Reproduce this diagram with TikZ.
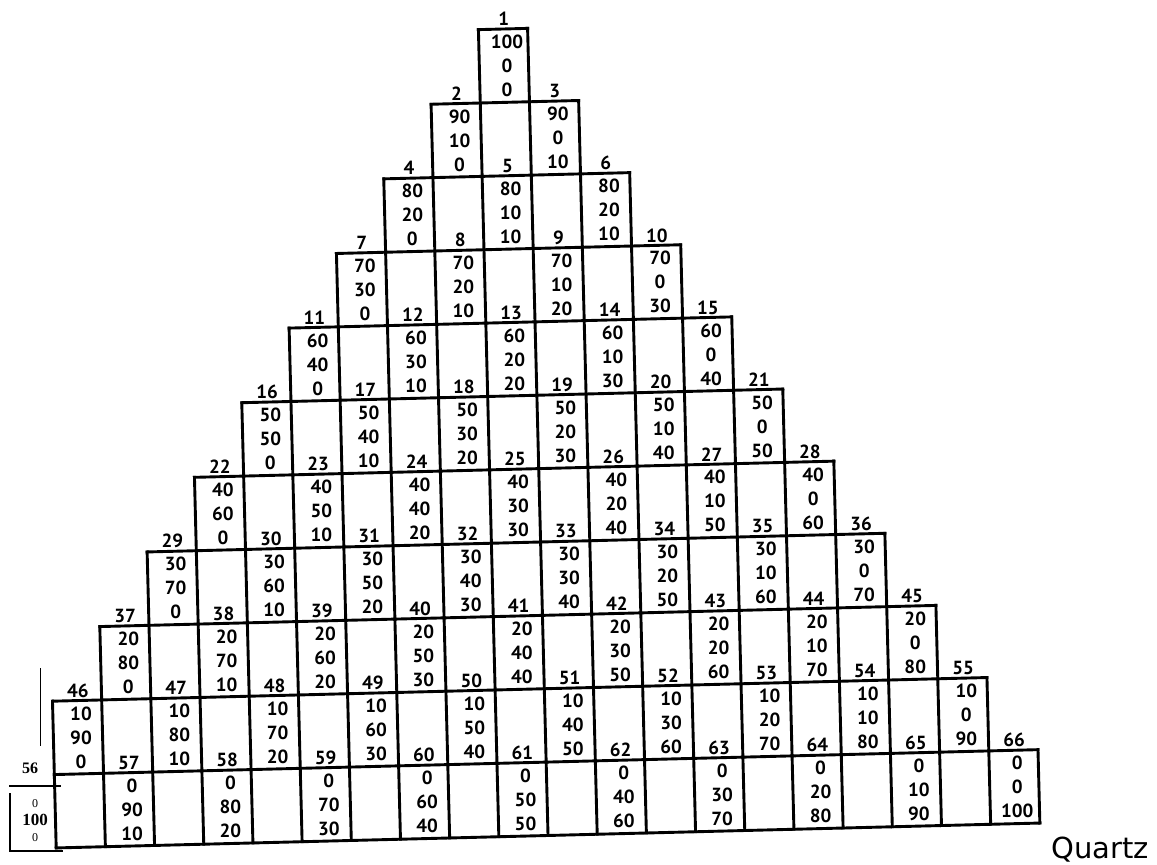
\documentclass[tikz,border=0pt]{standalone}
\usepackage{fontspec}
\newfontfamily\handfont{PT Sans}
\newfontfamily\typefont{Liberation Serif}
\newfontfamily\captfont{DejaVu Sans}
\begin{document}
\begin{tikzpicture}[x=1pt, y=-1pt, line width=2.9pt, line cap=rect,
    cellnum/.style={font=\handfont\bfseries\fontsize{19}{19}\selectfont, inner sep=0pt},
    cellval/.style={font=\handfont\bfseries\fontsize{19}{24}\selectfont, align=center, inner sep=0pt}]
    \useasboundingbox (0,0) rectangle (1157,865);

    % Staircase of cells, rows 1 to 10
    \begin{scope}[shift={(503,29)}, rotate=1.45]
        \foreach \r in {1,...,10} {
            \draw ({-(\r-0.5)*49.2}, {(\r-1)*73.4}) -- ({(\r-0.5)*49.2}, {(\r-1)*73.4});
            \foreach \j in {-\r,...,\r} {
                \ifnum\j>-\r
                \draw ({(\j-0.5)*49.2}, {(\r-1)*73.4}) -- ({(\j-0.5)*49.2}, {\r*73.4});
                \fi
            }
        }
        % last row, without the place of cell 56
        \draw (-467.4, 734) -- (516.6, 734);
        \draw (-467.4, 807.4) -- (516.6, 807.4);
        \foreach \j in {-9,...,11}
            \draw ({(\j-0.5)*49.2}, 734) -- ({(\j-0.5)*49.2}, 807.4);

        % Numbers and compositions
        \foreach \r in {1,...,11}
            \foreach \k in {1,...,\r} {
                \pgfmathtruncatemacro\n{\r*(\r-1)/2+\k}
                \pgfmathtruncatemacro\va{100-10*(\r-1)}
                \pgfmathtruncatemacro\vb{10*(\r-\k)}
                \pgfmathtruncatemacro\vc{10*(\k-1)}
                \ifnum\n=6 \def\vb{20}\def\vc{10}\fi % as written on the sheet
                \pgfmathsetmacro\cx{(2*\k-\r-1)*49.2}
                \pgfmathsetmacro\cy{(\r-1)*73.4}
                \ifnum\n=56\else
                \node[cellnum] (n\n) at (\cx+1, \cy-10) {\n};
                \node[cellval] (v\n) at (\cx+3, \cy+37) {\va\\\vb\\\vc};
                \fi
            }
    \end{scope}

    % Cell 56, pasted in
    \draw[line width=1pt] (40,668) -- (40,745);
    \node[font=\typefont\bfseries\fontsize{16}{16}\selectfont, inner sep=0pt] (n56) at (30,768) {56};
    \draw[line width=1.6pt] (10,786) -- (60,786);
    \draw (10,794) -- (10,851) -- (62,851);
    \node[font=\typefont\fontsize{12}{12}\selectfont, inner sep=0pt] (a56) at (35,804) {0};
    \node[font=\typefont\bfseries\fontsize{17}{17}\selectfont, inner sep=0pt] (v56) at (35,820) {100};
    \node[font=\typefont\fontsize{12}{12}\selectfont, inner sep=0pt] (c56) at (35,838) {0};

    \node[font=\captfont\fontsize{29}{29}\selectfont, anchor=base west, inner sep=0pt] (quartz) at (1050,858) {Quartz};
\end{tikzpicture}
\end{document}
